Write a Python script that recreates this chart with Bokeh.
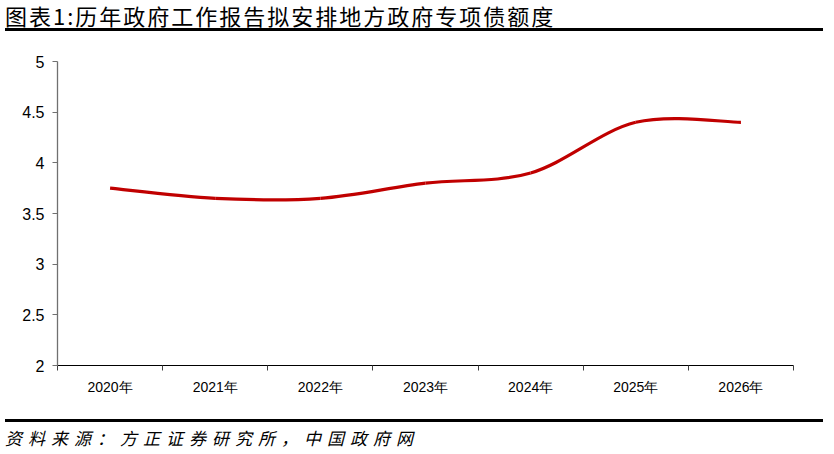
from bokeh.plotting import figure
from bokeh.models import FixedTicker, Range1d, Div
from bokeh.layouts import column
from bokeh.embed import file_html
from bokeh.resources import INLINE

# ---- data ----
years = ["2020年", "2021年", "2022年", "2023年", "2024年", "2025年", "2026年"]
quota = [3.75, 3.65, 3.65, 3.80, 3.90, 4.40, 4.40]
y_ticks = [2, 2.5, 3, 3.5, 4, 4.5, 5]
y_tick_labels = ["2", "2.5", "3", "3.5", "4", "4.5", "5"]
title_text = "图表1:历年政府工作报告拟安排地方政府专项债额度"
source_text = "资料来源：方正证券研究所，中国政府网"

n = len(years)
xc = [i + 0.5 for i in range(n)]

W = 818
p = figure(width=W, height=378, output_backend="svg", toolbar_location=None,
           x_range=Range1d(0, n), y_range=Range1d(2, 5),
           min_border_left=57, min_border_right=25, min_border_top=25, min_border_bottom=49)
p.outline_line_color = None
p.grid.grid_line_color = None
p.background_fill_color = "white"
p.border_fill_color = "white"

# smoothed line (Excel-style cubic Bezier through the data points)
x0s, y0s, x1s, y1s, cx0s, cy0s, cx1s, cy1s = [], [], [], [], [], [], [], []
for i in range(n - 1):
    xp, yp = (xc[i - 1], quota[i - 1]) if i > 0 else (xc[i], quota[i])
    xa, ya = xc[i], quota[i]
    xb, yb = xc[i + 1], quota[i + 1]
    xn, yn = (xc[i + 2], quota[i + 2]) if i + 2 < n else (xb, yb)
    x0s.append(xa); y0s.append(ya); x1s.append(xb); y1s.append(yb)
    cx0s.append(xa + (xb - xp) / 6); cy0s.append(ya + (yb - yp) / 6)
    cx1s.append(xb - (xn - xa) / 6); cy1s.append(yb - (yn - ya) / 6)
p.bezier(x0=x0s, y0=y0s, x1=x1s, y1=y1s, cx0=cx0s, cy0=cy0s, cx1=cx1s, cy1=cy1s,
         line_color="#C00000", line_width=3.2)

# x axis: labels at category centers, tick marks at boundaries
xa_ = p.xaxis[0]
xa_.ticker = FixedTicker(ticks=xc, minor_ticks=list(range(n + 1)))
xa_.major_label_overrides = {c: lab for c, lab in zip(xc, years)}
xa_.major_tick_out = 0
xa_.major_tick_in = 0
xa_.minor_tick_out = 5
xa_.minor_tick_in = 0
xa_.minor_tick_line_color = "#404040"
xa_.axis_line_color = "black"
xa_.axis_line_width = 1
xa_.major_label_text_font = "Liberation Sans"
xa_.major_label_text_font_size = "14px"
xa_.major_label_text_color = "black"
xa_.major_label_standoff = 8

ya_ = p.yaxis[0]
ya_.ticker = FixedTicker(ticks=y_ticks)
ya_.major_label_overrides = {t: lab for t, lab in zip(y_ticks, y_tick_labels)}
ya_.minor_tick_line_color = None
ya_.major_tick_out = 5
ya_.major_tick_in = 0
ya_.major_tick_line_color = "#707070"
ya_.axis_line_color = "#707070"
ya_.axis_line_width = 1.3
ya_.major_label_text_font = "Liberation Sans"
ya_.major_label_text_font_size = "16px"
ya_.major_label_text_color = "black"
ya_.major_label_standoff = 8

title_div = Div(text=title_text, width=W, height=26,
                styles={"font-family": "Noto Sans CJK SC", "font-size": "22px",
                        "letter-spacing": "2px",
                        "color": "black", "line-height": "20px",
                        "border-bottom": "3px solid black", "box-sizing": "border-box",
                        "white-space": "nowrap", "overflow": "visible"})
source_div = Div(text=source_text, width=W, height=35,
                 styles={"font-family": "Noto Sans CJK SC", "font-size": "17px",
                         "font-style": "italic", "letter-spacing": "6px",
                         "color": "black", "line-height": "32px",
                         "border-top": "3px solid black", "box-sizing": "border-box",
                         "white-space": "nowrap"})

layout = column(title_div, p, source_div, spacing=0)
open("out.html", "w").write(file_html(layout, INLINE))
